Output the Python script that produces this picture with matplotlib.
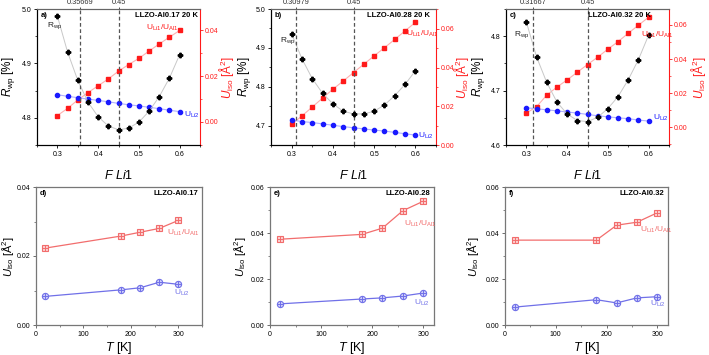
import numpy as np
import matplotlib
matplotlib.use("Agg")
import matplotlib.pyplot as plt
from matplotlib.ticker import MultipleLocator

plt.rcParams['font.family'] = ['Liberation Sans', 'DejaVu Sans']
plt.rcParams['mathtext.fontset'] = 'custom'
plt.rcParams['mathtext.rm'] = 'Liberation Sans'
plt.rcParams['mathtext.it'] = 'Liberation Sans:italic'
plt.rcParams['mathtext.bf'] = 'Liberation Sans:bold'

# ---- data: top row, refinement vs. F Li1 at 20 K ----
f_li1 = [0.3, 0.325, 0.35, 0.375, 0.4, 0.425, 0.45, 0.475, 0.5, 0.525, 0.55, 0.575, 0.6]

rwp_a = [4.987, 4.921, 4.869, 4.829, 4.802, 4.785, 4.778, 4.781, 4.792, 4.812, 4.839, 4.873, 4.916]
uli1_a = [0.0028, 0.0059, 0.0096, 0.0128, 0.0158, 0.0188, 0.0222, 0.0251, 0.0278, 0.0310, 0.0341, 0.0371, 0.0400]
uli2_a = [0.0119, 0.0112, 0.0106, 0.0100, 0.0094, 0.0088, 0.0081, 0.0075, 0.0070, 0.0064, 0.0058, 0.0051, 0.0045]

rwp_b = [4.936, 4.872, 4.821, 4.783, 4.756, 4.737, 4.730, 4.730, 4.737, 4.753, 4.777, 4.806, 4.841]
uli1_b = [0.0107, 0.0150, 0.0196, 0.0242, 0.0288, 0.0330, 0.0374, 0.0417, 0.0460, 0.0502, 0.0545, 0.0589, 0.0633]
uli2_b = [0.0129, 0.0121, 0.0116, 0.0109, 0.0102, 0.0095, 0.0089, 0.0083, 0.0077, 0.0072, 0.0065, 0.0058, 0.0051]

rwp_c = [4.826, 4.762, 4.715, 4.679, 4.657, 4.645, 4.643, 4.651, 4.667, 4.689, 4.720, 4.757, 4.802]
uli1_c = [0.0084, 0.0121, 0.0189, 0.0236, 0.0278, 0.0323, 0.0368, 0.0411, 0.0458, 0.0502, 0.0551, 0.0598, 0.0645]
uli2_c = [0.0115, 0.0109, 0.0103, 0.0097, 0.0090, 0.0084, 0.0076, 0.0068, 0.0062, 0.0056, 0.0051, 0.0043, 0.0037]

f_min = [0.35669, 0.30979, 0.31667]
f_opt = 0.45

# ---- data: bottom row, U_iso vs. temperature ----
temps = [20, 180, 220, 260, 300]
ut1_d = [0.0223, 0.0258, 0.0269, 0.0280, 0.0303]
ut2_d = [0.0083, 0.0102, 0.0108, 0.0124, 0.0118]
ut1_e = [0.0373, 0.0394, 0.0421, 0.0497, 0.0538]
ut2_e = [0.0092, 0.0113, 0.0118, 0.0126, 0.0139]
ut1_f = [0.0369, 0.0369, 0.0434, 0.0447, 0.0488]
ut2_f = [0.0078, 0.0110, 0.0096, 0.0118, 0.0123]

RED = '#ff1a1a'
BLUE = '#1a1aff'
LRED = '#f26d6d'
LBLUE = '#7070e8'
TICK = 5.0
LAB = 8.5

fig = plt.figure(figsize=(7.09, 3.55), dpi=100)
W, H = 709.0, 355.0


def box(l, r, t, b):
    return [l / W, (H - b) / H, (r - l) / W, (b - t) / H]


def place_ylabel(axis, xfrac):
    # centre the y label on a given x (axes fraction)
    axis.yaxis.label.set_verticalalignment('center')
    axis.yaxis.set_label_coords(xfrac, 0.5)


top_boxes = [box(37, 200, 9, 145), box(271, 436, 9, 145), box(506, 669, 9, 145)]
bot_boxes = [box(36, 202, 187, 325), box(270, 434, 187, 325), box(505, 668, 187, 325)]
left_lab_x = [-0.172, -0.162, -0.168]
right_lab_x = [1.165, 1.155, 1.18]
bot_lab_x = [-0.17, -0.18, -0.196]

top_sets = [
    (rwp_a, uli1_a, uli2_a, (4.75, 5.0), [4.8, 4.9, 5.0], (-0.0101, 0.0494), [0.0, 0.02, 0.04],
     'a)', 'LLZO-Al0.17 20 K', (0.985, 'right'), (0.06, 0.875), (0.67, 0.86), (0.90, 0.22)),
    (rwp_b, uli1_b, uli2_b, (4.65, 5.0), [4.7, 4.8, 4.9, 5.0], (0.0, 0.0702), [0.0, 0.02, 0.04, 0.06],
     'b)', 'LLZO-Al0.28 20 K', (0.965, 'right'), (0.055, 0.77), (0.82, 0.815), (0.89, 0.07)),
    (rwp_c, uli1_c, uli2_c, (4.6, 4.85), [4.6, 4.7, 4.8], (-0.0103, 0.0693), [0.0, 0.02, 0.04, 0.06],
     'c)', 'LLZO-Al0.32 20 K', (0.50, 'left'), (0.05, 0.81), (0.83, 0.81), (0.90, 0.20)),
]

for i, (rwp, u1, u2, ylim, yt, ylim2, yt2, tag, name, npos, rpos, u1pos, u2pos) in enumerate(top_sets):
    ax = fig.add_axes(top_boxes[i])
    ax2 = ax.twinx()
    ax.set_zorder(ax2.get_zorder() + 1)
    ax.patch.set_visible(False)

    ax2.plot(f_li1, u1, color=RED, marker='s', ms=2.8, lw=0.0)
    ax2.plot(f_li1, u1, color='#ffb0b0', lw=0.8, zorder=0)
    ax2.plot(f_li1, u2, color=BLUE, marker='o', ms=3.0, lw=0.0)
    ax2.plot(f_li1, u2, color='#b0b0ff', lw=0.8, zorder=0)
    ax.plot(f_li1, rwp, color='#c8c8c8', lw=0.7, zorder=1)
    ax.plot(f_li1, rwp, color='black', marker='P', ms=3.2, lw=0.0, zorder=3)

    for xv in (f_min[i], f_opt):
        ax.axvline(xv, color='#555555', ls=(0, (3, 2)), lw=0.9, zorder=2)

    ax.set_xlim(0.25, 0.65)
    ax.set_ylim(*ylim)
    ax.set_yticks(yt)
    ax.set_xticks([0.3, 0.4, 0.5, 0.6])
    ax.xaxis.set_minor_locator(MultipleLocator(0.05))
    ax.yaxis.set_minor_locator(MultipleLocator(0.05))
    ax2.set_ylim(*ylim2)
    ax2.set_yticks(yt2)
    ax2.yaxis.set_minor_locator(MultipleLocator(0.01))

    ax.tick_params(labelsize=TICK, length=2.5, width=0.6, pad=1.5)
    ax.tick_params(which='minor', length=1.5, width=0.5)
    ax2.tick_params(axis='y', labelsize=TICK, length=2.5, width=0.6, pad=1.2,
                    colors=RED)
    ax2.tick_params(axis='y', which='minor', length=1.5, width=0.5, colors=RED)
    for sp in ('left', 'bottom'):
        ax.spines[sp].set_linewidth(0.8)
    ax.spines['top'].set_color('#666666')
    ax2.spines['right'].set_color(RED)
    ax2.spines['right'].set_linewidth(0.8)
    ax2.spines['top'].set_visible(False)
    ax.spines['right'].set_visible(False)

    top = ax.secondary_xaxis('top')
    top.set_xticks([f_min[i], f_opt], labels=['%g' % f_min[i], '%g' % f_opt])
    top.tick_params(labelsize=5.3, length=1.5, width=0.6, pad=0.5, colors='#333333')
    top.spines['top'].set_color('#666666')

    ax.set_xlabel(r'$F\ Li1$', fontsize=LAB + 0.5, labelpad=8)
    ax.set_ylabel(r'$R_{\mathrm{wp}}$ [%]', fontsize=LAB)
    place_ylabel(ax, left_lab_x[i])
    ax2.set_ylabel(r'$U_{\mathrm{iso}}$ [Å$^2$]', fontsize=LAB, color=RED)
    place_ylabel(ax2, right_lab_x[i])

    ax.text(0.02, 0.955, tag, transform=ax.transAxes, fontsize=5.5, fontweight='bold', va='center')
    ax.text(npos[0], 0.955, name, transform=ax.transAxes, fontsize=5.5, fontweight='bold',
            va='center', ha=npos[1])
    ax.text(rpos[0], rpos[1], r'R$_{\mathrm{wp}}$', transform=ax.transAxes, fontsize=6,
            color='#222222', va='center')
    ax.text(u1pos[0], u1pos[1], r'U$_{\mathrm{Li1}}$/U$_{\mathrm{Al1}}$', transform=ax.transAxes,
            fontsize=6, color=RED, va='center')
    ax.text(u2pos[0], u2pos[1], r'U$_{\mathrm{Li2}}$', transform=ax.transAxes, fontsize=6,
            color=BLUE, va='center')

bot_sets = [
    (ut1_d, ut2_d, (0, 350), (0, 0.04), [0.0, 0.02, 0.04], 'd)', 'LLZO-Al0.17', (0.79, 0.667), (0.83, 0.23)),
    (ut1_e, ut2_e, (0, 321), (0, 0.06), [0.0, 0.02, 0.04, 0.06], 'e)', 'LLZO-Al0.28', (0.82, 0.73), (0.88, 0.16)),
    (ut1_f, ut2_f, (0, 321), (0, 0.06), [0.0, 0.02, 0.04, 0.06], 'f)', 'LLZO-Al0.32', (0.83, 0.69), (0.89, 0.15)),
]

for i, (u1, u2, xlim, ylim, yt, tag, name, u1pos, u2pos) in enumerate(bot_sets):
    ax = fig.add_axes(bot_boxes[i])
    ax.plot(temps, u1, color=LRED, lw=0.9, marker='s', ms=4.5, mfc='#fbd0d0', mec=LRED, mew=0.8)
    ax.plot(temps, u1, color=LRED, lw=0, marker='+', ms=4.5, mew=0.7)
    ax.plot(temps, u2, color=LBLUE, lw=0.9, marker='o', ms=4.5, mfc='#d0d0fa', mec=LBLUE, mew=0.8)
    ax.plot(temps, u2, color=LBLUE, lw=0, marker='+', ms=4.5, mew=0.7)

    ax.set_xlim(*xlim)
    ax.set_ylim(*ylim)
    ax.set_xticks([0, 100, 200, 300])
    ax.set_yticks(yt)
    ax.xaxis.set_minor_locator(MultipleLocator(50))
    ax.yaxis.set_minor_locator(MultipleLocator(0.01))
    ax.tick_params(labelsize=TICK, length=2.5, width=0.6, pad=1.5, color='#555555')
    ax.tick_params(which='minor', length=1.5, width=0.5, color='#555555')
    for sp in ax.spines.values():
        sp.set_color('#777777')
        sp.set_linewidth(0.9)

    ax.set_xlabel(r'$T$ [K]', fontsize=LAB + 0.5, labelpad=2)
    ax.set_ylabel(r'$U_{\mathrm{iso}}$ [Å$^2$]', fontsize=8)
    place_ylabel(ax, bot_lab_x[i])

    ax.text(0.025, 0.955, tag, transform=ax.transAxes, fontsize=5.5, fontweight='bold', va='center')
    ax.text(0.975, 0.955, name, transform=ax.transAxes, fontsize=5.5, fontweight='bold',
            va='center', ha='right')
    ax.text(u1pos[0], u1pos[1], r'U$_{\mathrm{Li1}}$/U$_{\mathrm{Al1}}$', transform=ax.transAxes,
            fontsize=6, color=LRED, va='center')
    ax.text(u2pos[0], u2pos[1], r'U$_{\mathrm{Li2}}$', transform=ax.transAxes, fontsize=6,
            color=LBLUE, va='center')

fig.savefig('out.png', dpi=100)
